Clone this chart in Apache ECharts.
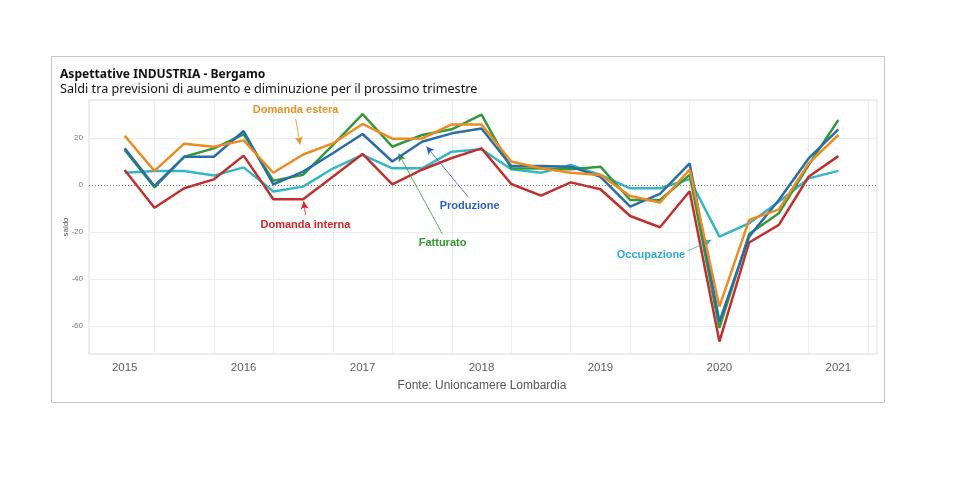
<!DOCTYPE html>
<html><head><meta charset="utf-8">
<script src="https://cdn.jsdelivr.net/npm/echarts@6/dist/echarts.min.js"></script>
<style>html,body{margin:0;padding:0;background:#fff}#c{width:961px;height:482px}</style>
</head><body><div id="c"></div>
<script>
// quarters 2015Q1 .. 2021Q1 (index 0..24)
const yearLabels = ['2015','2016','2017','2018','2019','2020','2021'];
const yearTickValues = [0,4,8,12,16,20,24];
const halfYearGridValues = [1,3,5,7,9,11,13,15,17,19,21,23,25];
const yTickValues = [-60,-40,-20,0,20];
const yGridValues = [-60,-40,-20,20];

const produzione = [15.6,-0.4,12,12,23,0.3,5.7,13.5,21.7,10,18.4,22,24.1,8.1,8.1,7.8,3.5,-9.2,-3.8,9.2,-58.2,-22,-6.4,11.3,23.7];
const fatturato  = [14.9,-1,12,15.6,21.6,1.8,4.3,17,30.2,16.3,21.3,23.7,30,7.1,7,6.7,7.8,-6.4,-6.4,4.3,-60.9,-20.9,-12,8.5,27.7];
const domandaEstera = [21,6,17.6,16.3,19,5.2,13,17.7,26,19.7,19.8,25.8,25.8,10,7.1,5.2,4.3,-4.7,-7.5,6.6,-51.8,-14.9,-10.4,9.2,21.3];
const domandaInterna = [6.4,-9.7,-1.4,2.4,12.5,-6.1,-6.1,3.5,13.2,0.3,6.5,11.5,15.6,0.4,-4.5,1.1,-1.8,-13.2,-18,-2.7,-66.7,-24.5,-17,3.5,12.3];
const occupazione = [5.2,6,6,4,7.5,-2.8,-0.7,7,12.8,7.1,7.1,14.2,15.2,6.7,5.2,8.5,4.3,-1.4,-1.4,2.5,-22,-16.3,-7.1,2.8,6];

const seriesNames = ['Occupazione','Domanda interna','Fatturato','Produzione','Domanda estera'];
const seriesValues = [occupazione, domandaInterna, fatturato, produzione, domandaEstera];
const lineColors = ['#35b6c6','#c0302e','#35993a','#2a6ea8','#ef8a22'];

// annotations: [label, labelX, labelY, arrowFromX, arrowFromY, arrowToX, arrowToY, color]
const annotations = [
  ['Domanda estera', 5.75, 31.9, 5.75, 28.2, 5.9, 17.2, '#e39323'],
  ['Domanda interna', 6.08, -17.0, 6.08, -12.8, 6.02, -6.9, '#d2262a'],
  ['Produzione', 11.6, -8.9, 11.56, -5.2, 10.15, 16.4, '#2a5fc8'],
  ['Fatturato', 10.69, -24.7, 10.69, -21.0, 9.21, 13.4, '#2e9a2e'],
  ['Occupazione', 17.7, -29.8, 18.92, -28.2, 19.73, -23.4, '#2fa9d6']
];

const chart = echarts.init(document.getElementById('c'), null, {renderer:'canvas'});

const series = seriesNames.map((n,k)=>({
  name:n, type:'line', symbol:'none', z:3+k,
  data: seriesValues[k].map((v,i)=>[i,v]),
  lineStyle:{width:2.5,color:lineColors[k]},
  itemStyle:{color:lineColors[k]}
}));

// zero line
series.push({
  type:'line', data:[], silent:true,
  markLine:{silent:true, symbol:['none','none'], label:{show:false},
    lineStyle:{type:[1,2], color:'#777', width:1},
    data:[{yAxis:0}]}
});

// annotations
series.push({
  type:'line', data:[], silent:true, z:20,
  markLine:{silent:true, symbol:['none','arrow'], symbolSize:[6,8], label:{show:false},
    data: annotations.map(a=>[
      {coord:[a[3],a[4]], lineStyle:{color:a[7],width:0.8,type:'solid'}},
      {coord:[a[5],a[6]]}
    ])},
  markPoint:{silent:true, symbol:'circle', symbolSize:0,
    data: annotations.map(a=>({coord:[a[1],a[2]], value:a[0],
      label:{show:true, position:'inside', formatter:a[0], color:a[7],
        fontFamily:'Liberation Sans, Arial, sans-serif', fontWeight:'bold', fontSize:11}}))}
});

chart.setOption({
  animation:false,
  backgroundColor:'#fff',
  grid:{left:89, right:84, top:100, bottom:128, show:true, borderColor:'#dcdcdc', borderWidth:1, backgroundColor:'transparent'},
  xAxis:{type:'value', min:-1.2, max:25.3,
    axisLine:{show:false},
    axisTick:{show:true, customValues:halfYearGridValues, length:4, lineStyle:{color:'#cfcfcf'}},
    splitLine:{show:true, lineStyle:{color:'#ececec', width:1}},
    axisLabel:{customValues:yearTickValues, formatter:v=>yearLabels[Math.round(v/4)]||'',
      color:'#606060', fontFamily:'Liberation Sans, Arial, sans-serif', fontSize:11.5, margin:8}
  },
  yAxis:{type:'value', min:-72, max:36.2,
    name:'saldo', nameLocation:'middle', nameGap:19, nameRotate:90, nameMoveOverlap:false,
    nameTextStyle:{color:'#555', fontSize:8, fontFamily:'Liberation Sans, Arial, sans-serif'},
    axisLine:{show:false},
    axisTick:{show:false, customValues:yGridValues},
    splitLine:{show:true, lineStyle:{color:'#ececec', width:1}},
    axisLabel:{customValues:yTickValues, color:'#777', fontSize:8, margin:6,
      fontFamily:'Liberation Sans, Arial, sans-serif'}
  },
  series: series,
  graphic:[
    {type:'rect', silent:true, shape:{x:51.5,y:56.5,width:833,height:346},
      style:{fill:'none', stroke:'#c6c6c6', lineWidth:1}},
    {type:'text', silent:true, style:{x:60, y:75, text:'Aspettative INDUSTRIA - Bergamo',
      font:'bold 12.1px "Noto Sans", sans-serif', fill:'#111', verticalAlign:'middle'}},
    {type:'text', silent:true, style:{x:60, y:89, text:'Saldi tra previsioni di aumento e diminuzione per il prossimo trimestre',
      font:'12.65px "Noto Sans", sans-serif', fill:'#111', verticalAlign:'middle'}},
    {type:'text', silent:true, style:{x:482, y:386, text:'Fonte: Unioncamere Lombardia',
      font:'12px "Liberation Sans", Arial, sans-serif', fill:'#555', align:'center', verticalAlign:'middle'}}
  ]
});
</script></body></html>
